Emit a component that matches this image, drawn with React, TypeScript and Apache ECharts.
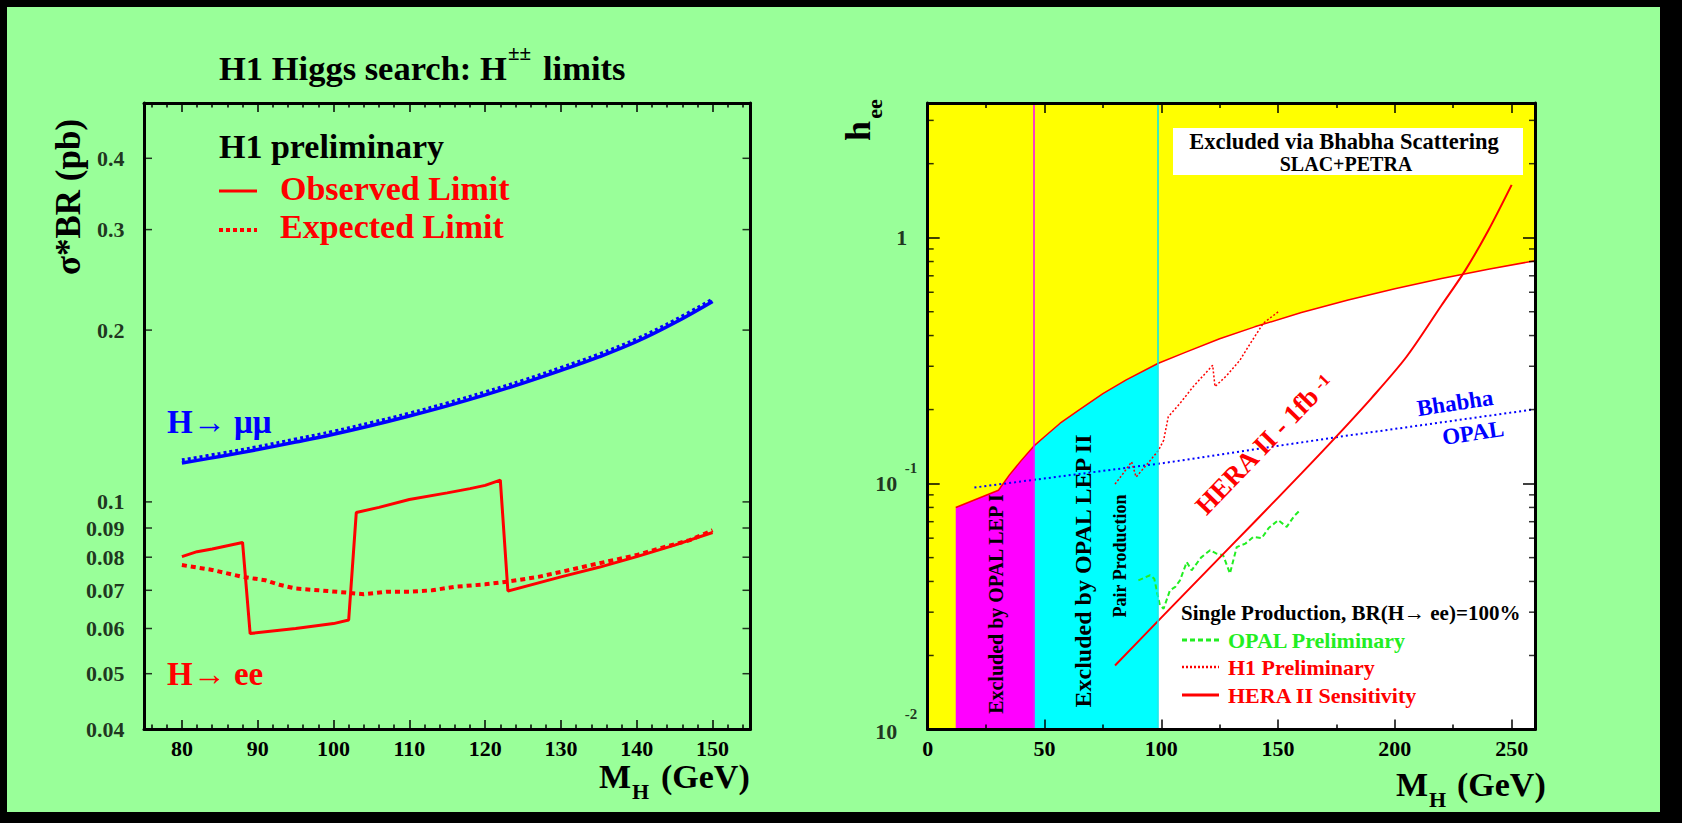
import React, { useEffect, useRef } from 'react';
import * as echarts from 'echarts';

const FONT = '"Liberation Serif", "Times New Roman", serif';

// ---------------- Left panel: sigma*BR limits ----------------
const MU_OBS = [[80, 0.117], [85, 0.1201], [90, 0.1235], [95, 0.1273], [100, 0.1314], [105, 0.1361], [110, 0.1414], [115, 0.1473], [120, 0.154], [125, 0.1615], [130, 0.17], [135, 0.1795], [140, 0.191], [145, 0.206], [150, 0.2245]];
const MU_EXP = [[80, 0.1185], [85, 0.1216], [90, 0.125], [95, 0.1289], [100, 0.133], [105, 0.1378], [110, 0.1431], [115, 0.1491], [120, 0.1559], [125, 0.1634], [130, 0.172], [135, 0.1816], [140, 0.1932], [145, 0.2083], [150, 0.2268]];
const EE_OBS = [[80, 0.0802], [82, 0.0818], [84, 0.0827], [86, 0.0838], [88, 0.0849], [89, 0.0588], [95, 0.06], [100, 0.0612], [102, 0.0621], [103, 0.0958], [106, 0.0978], [110, 0.101], [115, 0.1037], [118, 0.1055], [120, 0.1069], [122, 0.1092], [123, 0.0698], [130, 0.0739], [135, 0.0768], [140, 0.0802], [145, 0.084], [150, 0.0884]];
const EE_EXP = [[80, 0.0775], [84, 0.076], [88, 0.0739], [91, 0.0729], [93, 0.0715], [95, 0.0705], [98, 0.07], [102, 0.0693], [104, 0.0689], [107, 0.0696], [110, 0.0696], [113, 0.07], [116, 0.071], [120, 0.0717], [123, 0.0725], [127, 0.0739], [130, 0.0754], [133, 0.077], [137, 0.0791], [140, 0.0807], [143, 0.0829], [147, 0.0857], [150, 0.0892]];
const L_X_RANGE = [75, 155];
const L_Y_RANGE = [0.04, 0.5];
const L_Y_TICKS = [0.04, 0.05, 0.06, 0.07, 0.08, 0.09, 0.1, 0.2, 0.3, 0.4];

// ---------------- Right panel: h_ee limits ----------------
const LEP1_BOUND = [[12, 0.08], [30.3, 0.094], [35, 0.1085], [40, 0.124], [45.4, 0.142]];
const LEP2_BOUND = [[45.4, 0.142], [50, 0.155], [56.7, 0.176], [65, 0.2], [75, 0.232], [85, 0.264], [98.5, 0.308]];
const BHABHA_BOUND = [[98.5, 0.308], [110, 0.341], [125, 0.388], [140, 0.434], [160, 0.496], [180, 0.558], [200, 0.62], [220, 0.682], [240, 0.744], [260, 0.806]];
const BHABHA_OPAL = [[20, 0.0964], [100.4, 0.121], [176, 0.155], [260, 0.2006]];
const HERA_SENS = [[80.2, 0.0182], [100, 0.0285], [120, 0.0447], [140, 0.07], [160, 0.11], [175, 0.1556], [190, 0.2228], [205, 0.328], [220, 0.531], [230, 0.733], [240, 1.07], [250, 1.64]];
const H1_PRELIM = [[80.2, 0.0995], [84, 0.111], [87.3, 0.1226], [89.2, 0.1064], [93, 0.117], [98.7, 0.136], [101, 0.15], [103, 0.187], [108, 0.212], [113.7, 0.248], [118, 0.275], [122, 0.303], [123, 0.248], [128, 0.275], [133.7, 0.318], [138, 0.37], [143.7, 0.449], [150.1, 0.5]];
const OPAL_PRELIM = [[90.2, 0.0404], [93, 0.0415], [95.2, 0.0424], [97, 0.041], [99.4, 0.032], [101, 0.031], [103.7, 0.0368], [106, 0.038], [108, 0.0404], [110.9, 0.048], [113, 0.0444], [117, 0.05], [120.9, 0.0536], [123.5, 0.052], [126.5, 0.0511], [129.4, 0.0431], [132.3, 0.0552], [136, 0.057], [139.4, 0.0607], [143, 0.06], [146, 0.066], [150.1, 0.071], [153.7, 0.0667], [157, 0.074], [159.4, 0.078]];
const LEP1_EDGE = 45.4;
const LEP2_EDGE = 98.5;
const R_X_RANGE = [0, 260];
const R_Y_RANGE = [0.01, 3.53];
const R_Y_MINOR = [0.02, 0.03, 0.04, 0.05, 0.06, 0.07, 0.08, 0.09, 0.2, 0.3, 0.4, 0.5, 0.6, 0.7, 0.8, 0.9, 2, 3];
const R_Y_LABEL_VALUES = [0.01, 0.1, 1];
const R_Y_LABEL_MAIN = ['10', '10', '1'];
const R_Y_LABEL_EXP = ['-2', '-1', ''];

const bold = (size: number) => `bold ${size}px ${FONT}`;

function txt(text: string, x: number, y: number, size: number, color: string, opts: any = {}) {
  const align = opts.align || 'left';
  return {
    type: 'text', x, y, rotation: opts.rot || 0, z: 20, silent: true,
    style: { text, font: bold(size), fill: color, textAlign: align, align, textVerticalAlign: 'middle', verticalAlign: 'middle' },
  };
}
function seg(x1: number, y1: number, x2: number, y2: number, color: string, w: number, dash?: number[]) {
  return { type: 'line', z: 20, silent: true, shape: { x1, y1, x2, y2 }, style: { stroke: color, lineWidth: w, lineDash: dash || null } };
}

const axisLine = { show: true, onZero: false, lineStyle: { color: '#000', width: 3 } };
const tickStyle = { color: '#000', width: 1.5 };
const labelFont = { fontFamily: FONT, fontWeight: 'bold', fontSize: 22, color: '#000' };

function tickSeries(xi: number, data: number[][], size: number[], offset: number[]) {
  return {
    type: 'scatter', xAxisIndex: xi, yAxisIndex: xi, data, symbol: 'rect', symbolSize: size, symbolOffset: offset,
    itemStyle: { color: '#000' }, silent: true, z: 12, clip: false,
  };
}
function labelSeries(xi: number, data: any[], label: any) {
  return {
    type: 'scatter', xAxisIndex: xi, yAxisIndex: xi, data, symbol: 'rect', symbolSize: 1,
    itemStyle: { color: 'rgba(0,0,0,0)' }, silent: true, z: 12, clip: false,
    label: Object.assign({ show: true, ...labelFont }, label),
  };
}
function lineSeries(xi: number, data: number[][], color: string, width: number, type: any, z = 4, smooth: any = false) {
  return {
    type: 'line', xAxisIndex: xi, yAxisIndex: xi, data, symbol: 'none', silent: true, z, smooth,
    lineStyle: { color, width, type }, clip: true,
  };
}
function areaSeries(data: number[][], color: string, markX?: number, markColor?: string) {
  const s: any = {
    type: 'line', xAxisIndex: 2, yAxisIndex: 2, data, symbol: 'none', silent: true, z: 2,
    lineStyle: { width: 0, opacity: 0 }, areaStyle: { color, opacity: 1, origin: 'start' },
  };
  if (markX != null) {
    s.markLine = {
      silent: true, symbol: ['none', 'none'], label: { show: false },
      lineStyle: { color: markColor, width: 1.5, type: 'solid' }, data: [{ xAxis: markX }],
    };
  }
  return s;
}

export default function App() {
  const ref = useRef<HTMLDivElement>(null);
  useEffect(() => {
    if (!ref.current) return;
    const chart = echarts.init(ref.current, null, { renderer: 'svg' });

    const xAxisBase = (grid: number, pos: string, range: number[], extra: any, labels: boolean, fmt: any) => ({
      type: 'value', gridIndex: grid, position: pos, min: range[0], max: range[1], z: 10,
      axisLine, splitLine: { show: false }, minorSplitLine: { show: false },
      ...extra,
      axisLabel: labels ? { show: true, margin: 8, ...labelFont, formatter: fmt } : { show: false },
    });
    const lFmt = (v: number) => (v % 10 === 0 ? String(v) : '');
    const rFmt = (v: number) => (v % 50 === 0 && v <= 250 ? String(v) : '');
    const lX = { splitNumber: 8, axisTick: { show: true, inside: true, length: 9, lineStyle: tickStyle }, minorTick: { show: true, splitNumber: 5, length: 4.5, lineStyle: tickStyle } };
    const rX = { interval: 50, axisTick: { show: true, inside: true, length: 10, lineStyle: tickStyle }, minorTick: { show: true, splitNumber: 2, length: 5, lineStyle: tickStyle } };

    const yAxisBase = (grid: number, pos: string, range: number[], ticks: boolean) => ({
      type: 'log', logBase: 10, gridIndex: grid, position: pos, min: range[0], max: range[1], z: 10,
      axisLine, splitLine: { show: false }, axisLabel: { show: false },
      axisTick: ticks ? { show: true, inside: true, length: 12, lineStyle: tickStyle } : { show: false },
    });

    const boundary = LEP1_BOUND.concat(LEP2_BOUND.slice(1), BHABHA_BOUND.slice(1));
    const heraRot = (46 * Math.PI) / 180;
    const bhRot = (8.6 * Math.PI) / 180;

    const graphics: any[] = [
      { type: 'rect', z: -10, silent: true, shape: { x: 7, y: 7, width: 1653, height: 805 }, style: { fill: '#99ff99' } },
      // left panel texts
      txt('H1 Higgs search: H', 219, 68, 34.5, '#000'),
      txt('\u00b1\u00b1', 508, 53, 21, '#000'),
      txt('limits', 543, 68, 34.5, '#000'),
      txt('\u03c3*BR (pb)', 68, 197, 35, '#000', { rot: Math.PI / 2, align: 'center' }),
      txt('H1 preliminary', 219, 146, 34, '#000'),
      txt('Observed Limit', 280, 188, 34, '#ff0000'),
      txt('Expected Limit', 280, 226, 34, '#ff0000'),
      seg(219, 191, 257, 191, '#ff0000', 3),
      seg(219, 230, 257, 230, '#ff0000', 4, [4, 3]),
      txt('H\u2192 \u03bc\u03bc', 167, 422, 33, '#0000ff'),
      txt('H\u2192 ee', 167, 674, 33, '#ff0000'),
      txt('M', 599, 776, 34, '#000'),
      txt('H', 632, 791, 22, '#000'),
      txt('(GeV)', 661, 776, 34, '#000'),
      // right panel texts
      txt('h', 858, 131, 36, '#000', { rot: Math.PI / 2, align: 'center' }),
      txt('ee', 874, 109, 22, '#000', { rot: Math.PI / 2, align: 'center' }),
      txt('M', 1396, 784, 34, '#000'),
      txt('H', 1429, 799, 22, '#000'),
      txt('(GeV)', 1457, 784, 34, '#000'),
      { type: 'rect', z: 15, silent: true, shape: { x: 1173, y: 128, width: 350, height: 47 }, style: { fill: '#ffffff' } },
      txt('Excluded via Bhabha Scattering', 1344, 141, 22.5, '#000', { align: 'center' }),
      txt('SLAC+PETRA', 1346, 164, 20, '#000', { align: 'center' }),
      txt('Excluded by OPAL LEP I', 996, 604, 20, '#000', { rot: Math.PI / 2, align: 'center' }),
      txt('Excluded by OPAL LEP II', 1083, 571, 24, '#000', { rot: Math.PI / 2, align: 'center' }),
      txt('Pair Production', 1120, 556, 18, '#000', { rot: Math.PI / 2, align: 'center' }),
      txt('HERA II - 1fb', 1257, 451, 27, '#ff0000', { rot: heraRot, align: 'center' }),
      txt('-1', 1322, 382, 17, '#ff0000', { rot: heraRot, align: 'center' }),
      txt('Bhabha', 1455, 403, 23, '#0000ff', { rot: bhRot, align: 'center' }),
      txt('OPAL', 1473, 433, 23, '#0000ff', { rot: bhRot, align: 'center' }),
      txt('Single Production, BR(H\u2192 ee)=100%', 1181, 613, 21, '#000'),
      seg(1182, 640, 1219, 640, '#22ee22', 3, [5, 3]),
      txt('OPAL Preliminary', 1228, 640, 22, '#22ee22'),
      seg(1182, 667, 1219, 667, '#ff0000', 2.5, [2, 2]),
      txt('H1 Preliminary', 1228, 667, 22, '#ff0000'),
      seg(1182, 695, 1219, 695, '#ff0000', 3),
      txt('HERA II Sensitivity', 1228, 695, 22, '#ff0000'),
    ];

    const option: any = {
      animation: false,
      backgroundColor: '#000',
      textStyle: { fontFamily: FONT },
      grid: [
        { left: 144, top: 103, width: 606.5, height: 626, show: false },
        { left: 927.7, top: 103, width: 607.3, height: 626.5, show: true, backgroundColor: '#ffff00', borderWidth: 0 },
      ],
      xAxis: [
        xAxisBase(0, 'bottom', L_X_RANGE, lX, true, lFmt),
        xAxisBase(0, 'top', L_X_RANGE, lX, false, null),
        xAxisBase(1, 'bottom', R_X_RANGE, rX, true, rFmt),
        xAxisBase(1, 'top', R_X_RANGE, rX, false, null),
      ],
      yAxis: [
        yAxisBase(0, 'left', L_Y_RANGE, false),
        yAxisBase(0, 'right', L_Y_RANGE, false),
        yAxisBase(1, 'left', R_Y_RANGE, true),
        yAxisBase(1, 'right', R_Y_RANGE, true),
      ],
      graphic: { elements: graphics },
      series: [
        // left panel
        lineSeries(0, EE_EXP, '#ff0000', 4, [5, 4]),
        lineSeries(0, EE_OBS, '#ff0000', 3, 'solid'),
        lineSeries(0, MU_EXP, '#0000ff', 3, [3, 3], 4, 0.4),
        lineSeries(0, MU_OBS, '#0000ff', 3.5, 'solid', 4, 0.4),
        tickSeries(0, L_Y_TICKS.map((v) => [L_X_RANGE[0], v]), [8, 1.5], [4, 0]),
        tickSeries(0, L_Y_TICKS.map((v) => [L_X_RANGE[1], v]), [8, 1.5], [-4, 0]),
        labelSeries(0, L_Y_TICKS.map((v) => [L_X_RANGE[0], v]), { position: 'left', distance: 19, formatter: (p: any) => String(p.value[1]) }),
        // right panel
        areaSeries(LEP1_BOUND, '#ff00ff', LEP1_EDGE, '#ff00ff'),
        areaSeries(LEP2_BOUND, '#00ffff', LEP2_EDGE, '#00e8f0'),
        areaSeries(BHABHA_BOUND, '#ffffff'),
        lineSeries(2, boundary, '#ff0000', 1.5, 'solid', 3),
        lineSeries(2, BHABHA_OPAL, '#0000ff', 2, [2, 3]),
        lineSeries(2, H1_PRELIM, '#ff0000', 1.5, [2, 2]),
        lineSeries(2, OPAL_PRELIM, '#22ee22', 2, [5, 3]),
        lineSeries(2, HERA_SENS, '#ff0000', 2, 'solid', 4, 0.3),
        tickSeries(2, R_Y_MINOR.map((v) => [R_X_RANGE[0], v]), [6, 1.5], [3, 0]),
        tickSeries(2, R_Y_MINOR.map((v) => [R_X_RANGE[1], v]), [6, 1.5], [-3, 0]),
        labelSeries(2, R_Y_LABEL_VALUES.map((v, i) => ({
          value: [R_X_RANGE[0], v],
          label: { distance: R_Y_LABEL_MAIN[i] === '1' ? 20 : 30, offset: [0, i === 0 ? 2 : 0], formatter: R_Y_LABEL_MAIN[i] },
        })), { position: 'left' }),
        labelSeries(2, R_Y_LABEL_VALUES.filter((_, i) => R_Y_LABEL_EXP[i] !== '').map((v, i) => ({
          value: [R_X_RANGE[0], v],
          label: { formatter: R_Y_LABEL_EXP[i] },
        })), { position: 'left', distance: 10, offset: [0, -16], fontSize: 15 }),
      ],
    };
    chart.setOption(option);
    return () => chart.dispose();
  }, []);
  return <div ref={ref} style={{ position: 'fixed', left: 0, top: 0, width: 1682, height: 823 }} />;
}
